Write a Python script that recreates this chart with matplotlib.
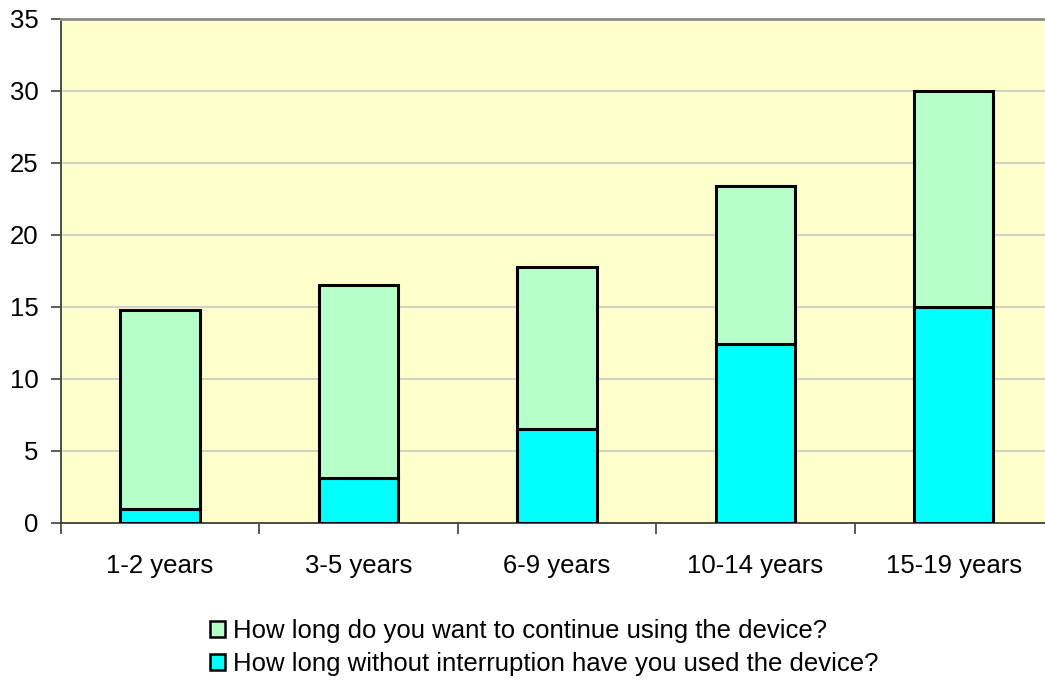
import matplotlib
matplotlib.use("Agg")
import matplotlib.pyplot as plt
import numpy as np
from matplotlib.patches import Patch

categories = ["1-2 years", "3-5 years", "6-9 years", "10-14 years", "15-19 years"]
used_without_interruption = [1.0, 3.15, 6.5, 12.4, 15.0]
want_to_continue = [13.8, 13.35, 11.3, 11.0, 15.0]
series_names = ["How long do you want to continue using the device?",
                "How long without interruption have you used the device?"]
yticks = [0, 5, 10, 15, 20, 25, 30, 35]

plt.rcParams['font.family'] = ['Liberation Sans', 'DejaVu Sans']
FS = 18.5

W, H = 1045, 683
fig = plt.figure(figsize=(W / 100, H / 100), dpi=100)
left, right, top, bottom = 60.7, 1053.0, 19.0, 523.0
ax = fig.add_axes([left / W, 1 - bottom / H, (right - left) / W, (bottom - top) / H])
ax.set_facecolor("#FFFFCC")

x = np.arange(len(categories))
bw = 0.4
green = "#B7FFCA"
cyan = "#00FFFF"
ax.bar(x, used_without_interruption, width=bw, color=cyan, edgecolor="black", linewidth=2.2, zorder=3)
ax.bar(x, want_to_continue, width=bw, bottom=used_without_interruption, color=green,
       edgecolor="black", linewidth=2.2, zorder=3)

ax.set_xlim(-0.5, len(categories) - 0.5)
ax.set_ylim(0, 35)
ax.set_yticks(yticks)
ax.set_yticklabels([str(v) for v in yticks], fontsize=FS)
ax.yaxis.grid(True, color="#C8C8C8", linewidth=1.2, zorder=0)
ax.set_axisbelow(True)

ax.set_xticks(x)
ax.set_xticklabels(categories, fontsize=FS)
ax.tick_params(axis="x", which="major", length=0, pad=22)
ax.set_xticks(np.arange(-0.5, len(categories), 1.0), minor=True)
ax.tick_params(axis="x", which="minor", length=8, width=1.2, color="#404040", direction="out")
ax.tick_params(axis="y", length=7, width=1.2, color="#404040", direction="out", pad=9)

for s in ["top", "right"]:
    ax.spines[s].set_color("#8C8C8C")
    ax.spines[s].set_linewidth(2)
ax.spines["left"].set_color("#404040")
ax.spines["left"].set_linewidth(1.3)
ax.spines["bottom"].set_color("#404040")
ax.spines["bottom"].set_linewidth(1.3)

handles = [Patch(facecolor=green, edgecolor="black", linewidth=1.8),
           Patch(facecolor=cyan, edgecolor="black", linewidth=1.8)]
fig.legend(handles, series_names, loc="upper left", bbox_to_anchor=(210 / W, 1 - 619 / H),
           frameon=False, fontsize=FS, handlelength=0.6, handleheight=0.6,
           handletextpad=0.3, labelspacing=0.35, borderaxespad=0, borderpad=0)

fig.savefig("out.png", dpi=100)
